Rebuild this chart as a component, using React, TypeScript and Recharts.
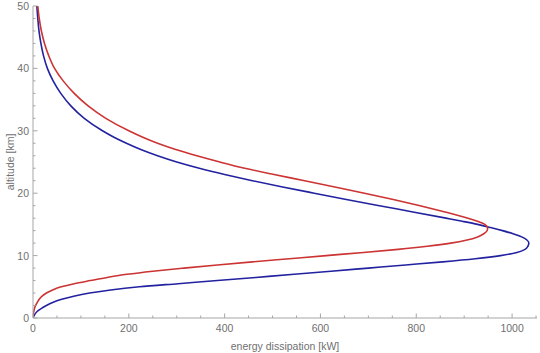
import React from 'react';
import { LineChart, Line, XAxis, YAxis } from 'recharts';

const altitudes = [0, 0.5, 1, 1.5, 2, 2.5, 3, 3.5, 4, 4.5, 5, 5.5, 6, 6.5, 7, 7.5, 8, 8.5, 9, 9.5, 10, 10.5, 11, 11.5, 12, 12.5, 13, 13.5, 14, 14.5, 15, 15.5, 16, 17, 18, 19, 20, 21, 22, 23, 24, 25, 26, 27, 28, 29, 30, 32, 34, 36, 38, 40, 42, 44, 46, 48, 50];
const blueValues = [0, 3, 8, 17, 28, 41, 60, 85, 118, 162, 222, 303, 385, 465, 545, 622, 700, 778, 855, 923, 976, 1010, 1027, 1033, 1035, 1031, 1020, 1002, 980, 955, 928, 896, 862, 793, 723, 654, 587, 521, 458, 400, 347, 300, 260, 225, 195, 168, 145, 107, 79, 58, 42, 30, 22, 16.5, 12.5, 10, 8];
const redValues = [0, 0.5, 1.5, 3, 5.5, 9, 13, 19, 28, 41, 59, 86, 120, 155, 196, 250, 315, 385, 458, 535, 612, 690, 762, 823, 872, 906, 928, 941, 948, 949, 943, 928, 908, 860, 808, 752, 692, 630, 567, 503, 442, 390, 342, 298, 260, 228, 200, 152, 115, 86, 63, 45, 33, 24, 17.5, 13, 10];

const xMajorTicks = [0, 200, 400, 600, 800, 1000];
const xAllTicks = [0, 50, 100, 150, 200, 250, 300, 350, 400, 450, 500, 550, 600, 650, 700, 750, 800, 850, 900, 950, 1000, 1050];
const yMajorTicks = [0, 10, 20, 30, 40, 50];
const yAllTicks = [0, 2, 4, 6, 8, 10, 12, 14, 16, 18, 20, 22, 24, 26, 28, 30, 32, 34, 36, 38, 40, 42, 44, 46, 48, 50];

const xTitle = 'energy dissipation [kW]';
const yTitle = 'altitude [km]';

const data = altitudes.map((a, i) => ({ alt: a, blue: blueValues[i], red: redValues[i] }));

const AXIS = '#a6a6a6';
const TICKTXT = '#707070';
const FONT = '"Liberation Sans", Arial, sans-serif';
const FS = 10.5;
const MAJ = 4.5;
const MIN = 2.5;

const BottomTick = (p: any) => {
  const { x, y, payload } = p;
  const major = xMajorTicks.includes(payload.value);
  return (
    <g>
      <line x1={x} y1={y} x2={x} y2={y - (major ? MAJ : MIN)} stroke={AXIS} strokeWidth={1} />
      {major && (
        <text x={x} y={y + 14} textAnchor="middle" fill={TICKTXT} fontSize={FS} fontFamily={FONT}>
          {payload.value}
        </text>
      )}
    </g>
  );
};
const TopTick = (p: any) => {
  const { x, y, payload } = p;
  const major = xMajorTicks.includes(payload.value);
  return <line x1={x} y1={y} x2={x} y2={y + (major ? MAJ : MIN)} stroke={AXIS} strokeWidth={1} />;
};
const LeftTick = (p: any) => {
  const { x, y, payload } = p;
  const major = yMajorTicks.includes(payload.value);
  return (
    <g>
      <line x1={x} y1={y} x2={x + (major ? MAJ : MIN)} y2={y} stroke={AXIS} strokeWidth={1} />
      {major && (
        <text x={x - 4} y={y + 4} textAnchor="end" fill={TICKTXT} fontSize={FS} fontFamily={FONT}>
          {payload.value}
        </text>
      )}
    </g>
  );
};
const RightTick = (p: any) => {
  const { x, y, payload } = p;
  const major = yMajorTicks.includes(payload.value);
  return <line x1={x} y1={y} x2={x - (major ? MAJ : MIN)} y2={y} stroke={AXIS} strokeWidth={1} />;
};

export default function App() {
  return (
    <div style={{ position: 'absolute', left: 0, top: 0, width: 540, height: 353, background: '#fff' }}>
      <LineChart width={540} height={353} data={data} layout="vertical" margin={{ top: 6, right: 3, bottom: 0, left: 0 }}>
        <XAxis
          type="number"
          domain={[0, 1052]}
          allowDataOverflow
          ticks={xAllTicks}
          interval={0}
          tickSize={0}
          tickMargin={0}
          tickLine={false}
          tick={BottomTick}
          axisLine={{ stroke: AXIS }}
          height={35}
        />
        <XAxis
          xAxisId="top"
          orientation="top"
          type="number"
          domain={[0, 1052]}
          allowDataOverflow
          ticks={xAllTicks}
          interval={0}
          tickSize={0}
          tickMargin={0}
          tickLine={false}
          tick={TopTick}
          axisLine={{ stroke: AXIS }}
          height={0}
        />
        <YAxis
          dataKey="alt"
          type="number"
          domain={[0, 50]}
          reversed
          allowDataOverflow
          ticks={yAllTicks}
          interval={0}
          tickSize={0}
          tickMargin={0}
          tickLine={false}
          tick={LeftTick}
          axisLine={{ stroke: AXIS }}
          width={33}
        />
        <YAxis
          yAxisId="right"
          orientation="right"
          type="number"
          domain={[0, 50]}
          reversed
          allowDataOverflow
          ticks={yAllTicks}
          interval={0}
          tickSize={0}
          tickMargin={0}
          tickLine={false}
          tick={RightTick}
          axisLine={{ stroke: AXIS }}
          width={0}
        />
        <Line type="monotone" dataKey="blue" stroke="#2222a0" strokeWidth={1.6} dot={false} isAnimationActive={false} />
        <Line type="monotone" dataKey="red" stroke="#cc3333" strokeWidth={1.6} dot={false} isAnimationActive={false} />
      </LineChart>
      <svg width={540} height={353} style={{ position: 'absolute', left: 0, top: 0, pointerEvents: 'none' }}>
        <text x={285} y={350} textAnchor="middle" fill={TICKTXT} fontSize={FS} fontFamily={FONT}>
          {xTitle}
        </text>
        <text x={10} y={162} transform="rotate(-90 10 162)" textAnchor="middle" dominantBaseline="central" fill={TICKTXT} fontSize={FS} fontFamily={FONT}>
          {yTitle}
        </text>
      </svg>
    </div>
  );
}
